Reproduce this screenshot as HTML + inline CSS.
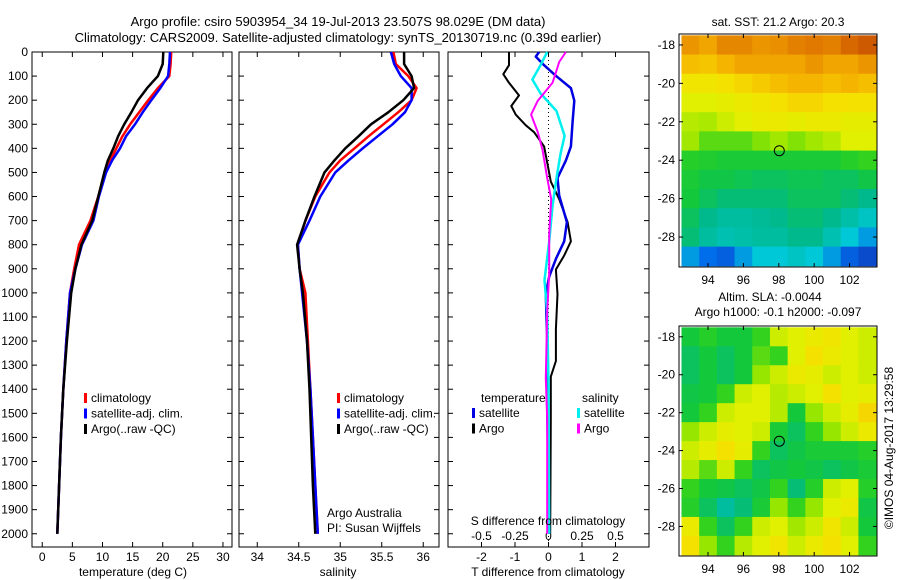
<!DOCTYPE html>
<html><head><meta charset="utf-8"><style>
body{margin:0;background:#fff}
svg{display:block;font-family:"Liberation Sans",sans-serif;font-size:12px}
</style></head><body>
<svg id="s" width="900" height="580" viewBox="0 0 900 580">
<text x="338" y="26" text-anchor="middle" font-size="13">Argo profile: csiro 5903954_34 19-Jul-2013 23.507S 98.029E (DM data)</text>
<text x="338" y="42" text-anchor="middle" font-size="13">Climatology: CARS2009. Satellite-adjusted climatology: synTS_20130719.nc (0.39d earlier)</text>
</svg>
<script>
// ---- data ----
const depths=[0,50,100,150,200,250,300,350,400,450,500,600,700,800,900,1000,1200,1400,1600,1800,2000];
const tempArgo=[20.1,20.0,19.2,17.4,15.9,14.8,13.6,12.6,11.8,10.9,10.3,9.3,8.3,6.5,5.5,4.8,4.1,3.5,3.1,2.8,2.5];
const tempClim=[21.4,21.3,21.1,19.2,17.6,16.1,14.6,13.3,12.3,11.3,10.4,9.3,8.0,6.1,5.3,4.6,4.0,3.5,3.1,2.8,2.5];
const tempSat=[21.2,21.1,20.9,19.6,18.1,16.7,15.4,13.9,12.9,11.6,10.6,9.4,8.5,6.6,5.5,4.6,4.0,3.5,3.1,2.8,2.5];
const salArgo=[35.77,35.77,35.86,35.89,35.76,35.58,35.37,35.22,35.06,34.93,34.81,34.69,34.58,34.48,34.51,34.55,34.60,34.63,34.65,34.67,34.70];
const salClim=[35.64,35.67,35.82,35.92,35.86,35.70,35.52,35.34,35.17,35.00,34.87,34.70,34.58,34.49,34.51,34.58,34.61,34.64,34.67,34.70,34.73];
const salSat=[35.61,35.65,35.73,35.86,35.86,35.78,35.63,35.45,35.27,35.10,34.94,34.76,34.63,34.49,34.51,34.54,34.60,34.64,34.67,34.70,34.73];
const dTArgoDepth=[0,55,92,128,180,224,260,304,333,392,465,538,611,706,786,845,903,1005,1151,1283,1348,1517,2000];
const dTArgo=[-1.18,-1.18,-1.35,-1.18,-0.88,-1.11,-0.98,-0.68,-0.43,-0.13,-0.03,0.07,0.32,0.57,0.67,0.47,0.22,0.27,0.22,0.22,0.07,0.07,0.05];
const dTSatDepth=[0,19,55,99,150,202,289,392,450,523,596,706,786,859,932,1005,1224,1370,2000];
const dTSat=[-0.28,-0.38,-0.13,0.22,0.67,0.77,0.72,0.67,0.52,0.27,0.32,0.55,0.47,0.22,0.02,-0.08,-0.03,-0.05,0.02];
const dSSatDepth=[0,55,114,172,245,348,421,523,640,786,947,1078,1370,2000];
const dSSat=[-0.01,-0.06,-0.12,-0.06,0.06,0.12,0.09,0.06,0.03,0.005,-0.03,-0.01,0,0.005];
const dSArgoDepth=[0,41,85,128,202,260,333,406,523,611,757,918,1078,1356,1517,2000];
const dSArgo=[0.13,0.08,0.055,0.03,-0.08,-0.13,-0.08,-0.045,-0.01,0.02,0.005,0.005,-0.01,-0.02,-0.01,-0.01];
const tTicks=[0,5,10,15,20,25,30];
const sTicks=[34,34.5,35,35.5,36];
const dTTicks=[-2,-1,0,1,2];
const dSTicks=[-0.5,-0.25,0,0.25,0.5];
const dSTickLabels=["-0.5","-0.25","0","0.25","0.5"];
const lonTicks=[94,96,98,100,102];
const latTicks=[18,20,22,24,26,28];
const argoLon=98.029, argoLat=23.507;
const sstGrid=[
[.82,.80,.84,.84,.82,.83,.85,.86,.85,.88,.90],
[.76,.75,.78,.80,.80,.80,.80,.82,.80,.80,.82],
[.68,.68,.70,.72,.74,.76,.78,.78,.76,.78,.76],
[.62,.62,.64,.66,.68,.70,.72,.72,.70,.70,.70],
[.58,.57,.60,.63,.65,.66,.64,.66,.66,.64,.64],
[.56,.52,.52,.52,.54,.56,.54,.56,.58,.62,.62],
[.48,.47,.46,.46,.46,.46,.46,.46,.46,.48,.50],
[.46,.44,.44,.43,.42,.42,.43,.43,.42,.42,.44],
[.45,.42,.40,.40,.40,.40,.42,.42,.42,.40,.38],
[.42,.38,.36,.36,.37,.38,.40,.40,.38,.35,.32],
[.40,.36,.34,.35,.36,.36,.38,.38,.34,.30,.25],
[.25,.20,.18,.25,.30,.30,.32,.30,.25,.18,.15]];
const slaGrid=[
[.45,.48,.45,.45,.50,.60,.62,.65,.68,.62,.60],
[.42,.45,.42,.45,.52,.50,.62,.70,.66,.62,.60],
[.42,.45,.42,.45,.55,.60,.66,.64,.60,.62,.60],
[.44,.45,.50,.60,.62,.58,.60,.62,.70,.62,.64],
[.45,.50,.60,.62,.62,.58,.45,.55,.60,.64,.72],
[.55,.60,.64,.62,.60,.46,.42,.50,.55,.60,.66],
[.60,.64,.70,.64,.50,.42,.44,.46,.46,.46,.48],
[.58,.52,.60,.50,.42,.44,.45,.44,.42,.44,.46],
[.50,.45,.44,.42,.44,.50,.40,.48,.60,.62,.48],
[.48,.42,.36,.40,.46,.55,.50,.55,.62,.66,.44],
[.65,.50,.42,.50,.60,.62,.56,.60,.68,.60,.45],
[.70,.55,.50,.58,.62,.68,.60,.65,.70,.62,.50]];
const gridLon0=92.5, gridLat0=17.5;

// ---- helpers ----
const S=document.getElementById('s'),NS='http://www.w3.org/2000/svg';
function mk(t,a,p){const e=document.createElementNS(NS,t);for(const k in a)e.setAttribute(k,a[k]);(p||S).appendChild(e);return e;}
function txt(x,y,s,anchor,name,extra){const e=mk('text',Object.assign({x:x,y:y,'text-anchor':anchor||'middle'},extra||{}));e.textContent=s;


return e;}
const pTop=52,pmax=2055,bot=547;
const yP=p=>pTop+p/pmax*(bot-pTop);
function lin(d0,d1,r0,r1){return v=>r0+(v-d0)/(d1-d0)*(r1-r0);}
const xT=lin(-1.7,31.5,32,232), xS=lin(33.78,36.19,239,439), xDT=lin(-3,3,448,649), xDS=lin(-0.75,0.75,448,649);
function panel(x0,x1,name,labels){
 const r=mk('rect',{x:x0,y:pTop,width:x1-x0,height:bot-pTop,fill:'none',stroke:'#000'});
 
 
 for(let p=0;p<=2000;p+=100){const y=yP(p);
  mk('line',{x1:x0,x2:x0+5,y1:y,y2:y,stroke:'#000'});mk('line',{x1:x1-5,x2:x1,y1:y,y2:y,stroke:'#000'});
  if(labels){txt(x0-4,y+4,String(p),'end','y-tick-label');}}
}
function line(xs,ds,xf,col,name,w){const pts=xs.map((v,i)=>xf(v).toFixed(1)+','+yP(ds[i]).toFixed(1)).join(' ');
 const e=mk('polyline',{points:pts,fill:'none',stroke:col,'stroke-width':w||2.5,'stroke-linejoin':'round'});
 
 }
function xticks(vals,xf,labels,y){vals.forEach((v,i)=>{const x=xf(v);mk('line',{x1:x,x2:x,y1:bot,y2:bot-5,stroke:'#000'});mk('line',{x1:x,x2:x,y1:pTop,y2:pTop+5,stroke:'#000'});
 txt(x,y,labels?labels[i]:String(v),'middle','x-tick-label');});}
function legend(x,y,items){items.forEach((it,i)=>{const r=mk('rect',{x:x,y:y+i*15.5-9,width:3,height:10,fill:it[1]});
 
 
 txt(x+7,y+i*15.5,it[0],'start','legend-entry');});}

// panel 1 temperature
panel(32,232,'temperature-panel',true);
xticks(tTicks,xT,null,561);
line(tempClim,depths,xT,'#f00','climatology-temp-line');
line(tempSat,depths,xT,'#00f','satellite-temp-line');
line(tempArgo,depths,xT,'#000','argo-temp-line');
legend(84,402,[['climatology','#f00'],['satellite-adj. clim.','#00f'],['Argo(..raw -QC)','#000']]);
txt(133,576,'temperature (deg C)','middle','x-axis-title-temperature');
// panel 2 salinity
panel(239,439,'salinity-panel',false);
xticks(sTicks,xS,null,561);
line(salClim,depths,xS,'#f00','climatology-sal-line');
line(salSat,depths,xS,'#00f','satellite-sal-line');
line(salArgo,depths,xS,'#000','argo-sal-line');
legend(337,402,[['climatology','#f00'],['satellite-adj. clim.','#00f'],['Argo(..raw -QC)','#000']]);
txt(327,517,'Argo Australia','start','credit-argo-australia');
txt(327,532,'PI: Susan Wijffels','start','credit-pi');
txt(338,576,'salinity','middle','x-axis-title-salinity');
// panel 3 differences
panel(448,649,'difference-panel',false);
xticks(dTTicks,xDT,null,561);
dSTicks.forEach((v,i)=>txt(xDS(v),540,dSTickLabels[i],'middle','s-tick-label'));
mk('line',{x1:xDT(0),x2:xDT(0),y1:pTop,y2:bot,stroke:'#000','stroke-dasharray':'1,3'});
line(dTArgo,dTArgoDepth,xDT,'#000','argo-tdiff-line',2);
line(dTSat,dTSatDepth,xDT,'#0000e0','satellite-tdiff-line',2.5);
line(dSSat,dSSatDepth,xDS,'#00f0f0','satellite-sdiff-line',2.5);
line(dSArgo,dSArgoDepth,xDS,'#f0f','argo-sdiff-line',2);
txt(481,402,'temperature','start','legend-title-temperature');
txt(582,402,'salinity','start','legend-title-salinity');
legend(472,417,[['satellite','#0000e0'],['Argo','#000']]);
legend(577,417,[['satellite','#00f0f0'],['Argo','#f0f']]);
txt(548,525,'S difference from climatology','middle','s-axis-title');
txt(548,576,'T difference from climatology','middle','t-axis-title');

// maps
const stops=[[0.1,[20,40,170]],[0.2,[0,110,235]],[0.3,[0,200,215]],[0.38,[0,185,140]],[0.45,[20,200,60]],[0.5,[50,210,30]],[0.55,[150,230,0]],[0.62,[225,240,0]],[0.7,[245,225,0]],[0.78,[245,180,0]],[0.86,[225,120,0]],[0.95,[180,50,0]]];
function cmap(v){if(v<=stops[0][0])return 'rgb('+stops[0][1]+')';for(let i=1;i<stops.length;i++){if(v<=stops[i][0]){const a=stops[i-1],b=stops[i],t=(v-a[0])/(b[0]-a[0]);return 'rgb('+a[1].map((c,k)=>Math.round(c+(b[1][k]-c)*t)).join(',')+')';}}return 'rgb('+stops[stops.length-1][1]+')';}
function map(y0,y1,grid,name){
 const x0=679,x1=877;const xL=lin(92.36,103.55,x0,x1),yL=lin(17.43,29.56,y0,y1);
 const g=mk('g',{});
 grid.forEach((row,r)=>row.forEach((v,c)=>{const ax=Math.max(x0,xL(gridLon0+c)),bx=Math.min(x1,xL(gridLon0+c+1)),ay=Math.max(y0,yL(gridLat0+r)),by=Math.min(y1,yL(gridLat0+r+1));
  const cell=mk('rect',{x:ax,y:ay,width:bx-ax+0.5,height:by-ay+0.5,fill:cmap(v)},g);
  
  }));
 mk('rect',{x:x0,y:y0,width:x1-x0,height:y1-y0,fill:'none',stroke:'#000'});
 lonTicks.forEach(v=>{const x=xL(v);mk('line',{x1:x,x2:x,y1:y1,y2:y1-4,stroke:'#000'});mk('line',{x1:x,x2:x,y1:y0,y2:y0+4,stroke:'#000'});txt(x,y1+17,String(v),'middle','lon-tick-label');});
 latTicks.forEach(v=>{const y=yL(v);mk('line',{x1:x0,x2:x0+4,y1:y,y2:y,stroke:'#000'});mk('line',{x1:x1,x2:x1-4,y1:y,y2:y,stroke:'#000'});txt(x0-4,y+4,'-'+v,'end','lat-tick-label');});
 const c=mk('circle',{cx:xL(argoLon),cy:yL(argoLat),r:5,fill:'none',stroke:'#000'});
 
 
}
map(34,267,sstGrid,'sst-map');
map(326,556,slaGrid,'sla-map');
txt(778,26,'sat. SST: 21.2 Argo: 20.3','middle','sst-map-title');
txt(770,301,'Altim. SLA: -0.0044','middle','sla-map-title-1');
txt(778,316,'Argo h1000: -0.1 h2000: -0.097','middle','sla-map-title-2');
txt(0,0,'©IMOS 04-Aug-2017 13:29:58','middle','imos-timestamp',{transform:'translate(893,448) rotate(-90)'});
</script>
</body></html>
